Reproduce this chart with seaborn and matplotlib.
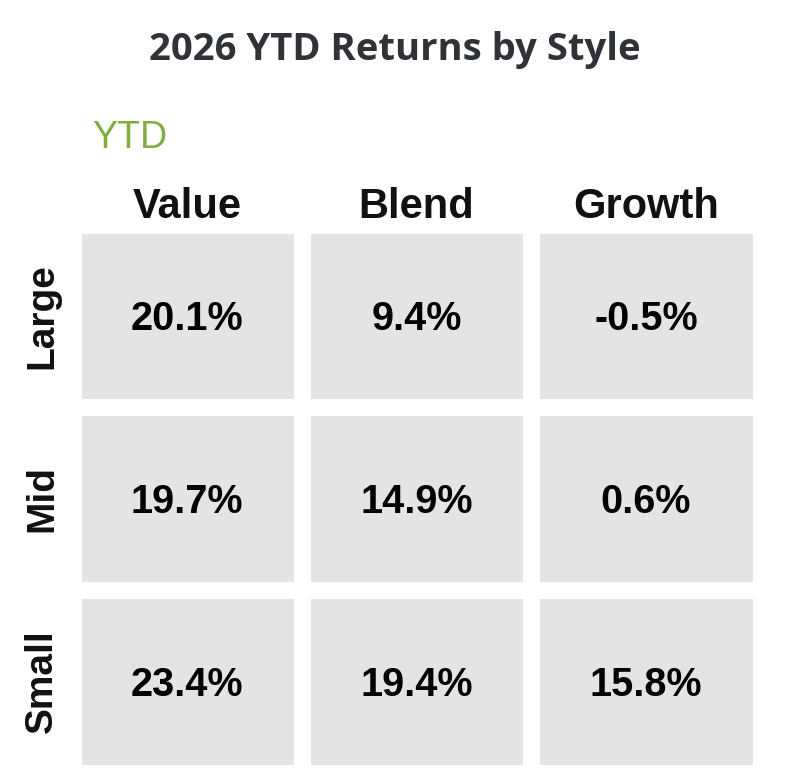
import numpy as np
import pandas as pd
import matplotlib
matplotlib.use('Agg')
import matplotlib.pyplot as plt
from matplotlib.colors import ListedColormap
import seaborn as sns

sns.set_style('white')
plt.rcParams['font.family'] = ['Liberation Sans', 'DejaVu Sans']

# data
styles = ['Value', 'Blend', 'Growth']
sizes = ['Large', 'Mid', 'Small']
large = [20.1, 9.4, -0.5]
mid = [19.7, 14.9, 0.6]
small = [23.4, 19.4, 15.8]

returns = pd.DataFrame([large, mid, small], index=sizes, columns=styles)
labels = returns.apply(lambda col: col.map(lambda v: f'{v:.1f}%'))

W, H = 790, 784
fig = plt.figure(figsize=(W / 100, H / 100), dpi=100)
# axes box in pixels (includes half of the white gaps on the outside)
x0, x1, y0, y1 = 72.5, 760.5, 224.5, 772.5
ax = fig.add_axes([x0 / W, 1 - y1 / H, (x1 - x0) / W, (y1 - y0) / H])

sns.heatmap(returns, ax=ax, cmap=ListedColormap(['#e3e4e6']), cbar=False,
            annot=labels, fmt='', linewidths=11, linecolor='white',
            annot_kws={'fontsize': 28.5, 'fontweight': 'bold', 'color': 'black'})
for t in ax.texts:
    x, y = t.get_position()
    t.set_position((x, y + 0.02))

ax.xaxis.tick_top()
ax.tick_params(axis='x', length=0, pad=-2)
ax.tick_params(axis='y', length=0, pad=9)
ax.set_xticklabels(styles, fontsize=30, fontweight='bold', color='#111111')
ax.set_yticklabels(sizes, fontsize=28, fontweight='bold', color='#111111',
                   rotation=90, va='center')
ax.set_xlabel('')
ax.set_ylabel('')

fig.text(92 / W, 1 - 138 / H, 'YTD', fontsize=27, color='#7fae3d',
         ha='left', va='center')
fig.text(0.5, 1 - 50 / H, '2026 YTD Returns by Style', fontsize=27.5,
         fontweight='bold', color='#2f3236', ha='center', va='center',
         family=['Open Sans', 'DejaVu Sans'])

fig.savefig('out.png', dpi=100, facecolor='white')
